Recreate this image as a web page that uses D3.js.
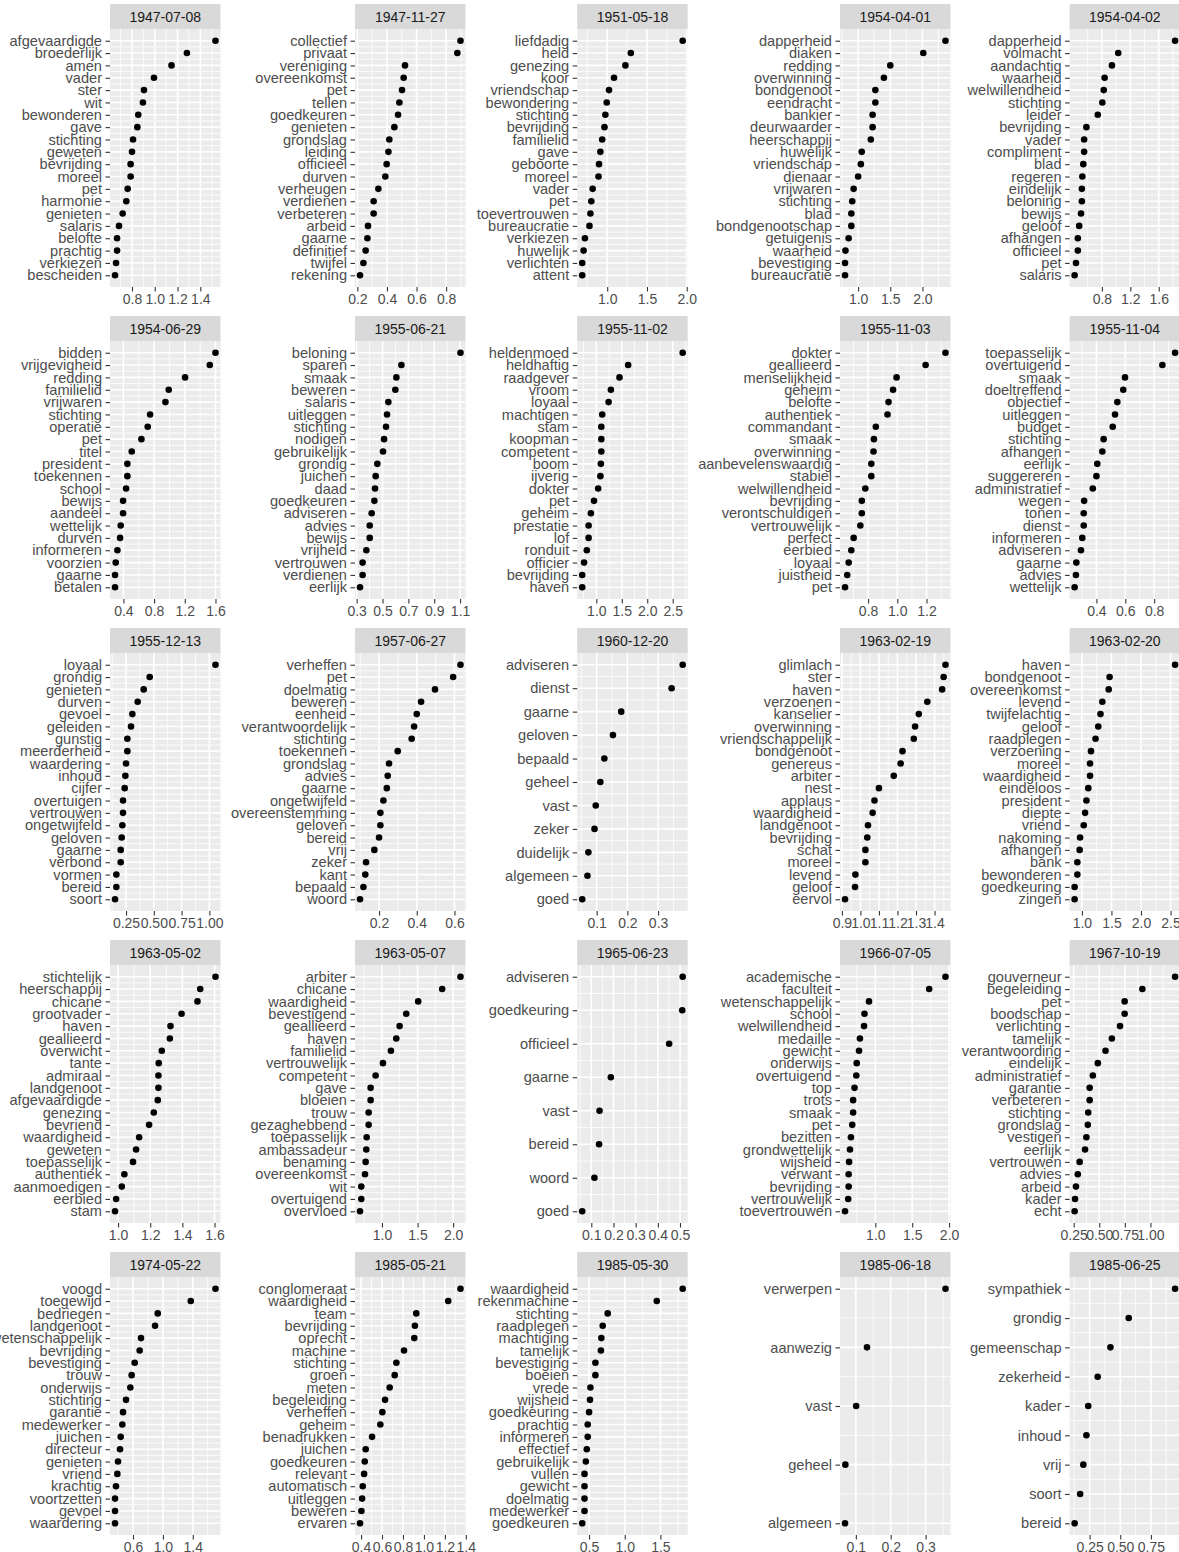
<!DOCTYPE html>
<html>
<head>
<meta charset="utf-8">
<script src="https://cdn.jsdelivr.net/npm/d3@7"></script>
<style>
  html, body { margin: 0; padding: 0; background: #ffffff; }
  svg { display: block; }
  text { font-family: "Liberation Sans", Arial, sans-serif; }
</style>
</head>
<body>
<svg id="chart" width="1179" height="1552"></svg>
<script>
// ---------------- DATA ----------------
const panelDates = [
  "1947-07-08","1947-11-27","1951-05-18","1954-04-01","1954-04-02",
  "1954-06-29","1955-06-21","1955-11-02","1955-11-03","1955-11-04",
  "1955-12-13","1957-06-27","1960-12-20","1963-02-19","1963-02-20",
  "1963-05-02","1963-05-07","1965-06-23","1966-07-05","1967-10-19",
  "1974-05-22","1985-05-21","1985-05-30","1985-06-18","1985-06-25"
];

const panelWords = [
  ["afgevaardigde","broederlijk","amen","vader","ster","wit","bewonderen","gave","stichting","geweten","bevrijding","moreel","pet","harmonie","genieten","salaris","belofte","prachtig","verkiezen","bescheiden"],
  ["collectief","privaat","vereniging","overeenkomst","pet","tellen","goedkeuren","genieten","grondslag","leiding","officieel","durven","verheugen","verdienen","verbeteren","arbeid","gaarne","definitief","twijfel","rekening"],
  ["liefdadig","held","genezing","koor","vriendschap","bewondering","stichting","bevrijding","familielid","gave","geboorte","moreel","vader","pet","toevertrouwen","bureaucratie","verkiezen","huwelijk","verlichten","attent"],
  ["dapperheid","diaken","redding","overwinning","bondgenoot","eendracht","bankier","deurwaarder","heerschappij","huwelijk","vriendschap","dienaar","vrijwaren","stichting","blad","bondgenootschap","getuigenis","waarheid","bevestiging","bureaucratie"],
  ["dapperheid","volmacht","aandachtig","waarheid","welwillendheid","stichting","leider","bevrijding","vader","compliment","blad","regeren","eindelijk","beloning","bewijs","geloof","afhangen","officieel","pet","salaris"],
  ["bidden","vrijgevigheid","redding","familielid","vrijwaren","stichting","operatie","pet","titel","president","toekennen","school","bewijs","aandeel","wettelijk","durven","informeren","voorzien","gaarne","betalen"],
  ["beloning","sparen","smaak","beweren","salaris","uitleggen","stichting","nodigen","gebruikelijk","grondig","juichen","daad","goedkeuren","adviseren","advies","bewijs","vrijheid","vertrouwen","verdienen","eerlijk"],
  ["heldenmoed","heldhaftig","raadgever","vroom","loyaal","machtigen","stam","koopman","competent","boom","ijverig","dokter","pet","geheim","prestatie","lof","ronduit","officier","bevrijding","haven"],
  ["dokter","geallieerd","menselijkheid","geheim","belofte","authentiek","commandant","smaak","overwinning","aanbevelenswaardig","stabiel","welwillendheid","bevrijding","verontschuldigen","vertrouwelijk","perfect","eerbied","loyaal","juistheid","pet"],
  ["toepasselijk","overtuigend","smaak","doeltreffend","objectief","uitleggen","budget","stichting","afhangen","eerlijk","suggereren","administratief","wegen","tonen","dienst","informeren","adviseren","gaarne","advies","wettelijk"],
  ["loyaal","grondig","genieten","durven","gevoel","geleiden","gunstig","meerderheid","waardering","inhoud","cijfer","overtuigen","vertrouwen","ongetwijfeld","geloven","gaarne","verbond","vormen","bereid","soort"],
  ["verheffen","pet","doelmatig","beweren","eenheid","verantwoordelijk","stichting","toekennen","grondslag","advies","gaarne","ongetwijfeld","overeenstemming","geloven","bereid","vrij","zeker","kant","bepaald","woord"],
  ["adviseren","dienst","gaarne","geloven","bepaald","geheel","vast","zeker","duidelijk","algemeen","goed"],
  ["glimlach","ster","haven","verzoenen","kanselier","overwinning","vriendschappelijk","bondgenoot","genereus","arbiter","nest","applaus","waardigheid","landgenoot","bevrijding","schat","moreel","levend","geloof","eervol"],
  ["haven","bondgenoot","overeenkomst","levend","twijfelachtig","geloof","raadplegen","verzoening","moreel","waardigheid","eindeloos","president","diepte","vriend","nakoming","afhangen","bank","bewonderen","goedkeuring","zingen"],
  ["stichtelijk","heerschappij","chicane","grootvader","haven","geallieerd","overwicht","tante","admiraal","landgenoot","afgevaardigde","genezing","bevriend","waardigheid","geweten","toepasselijk","authentiek","aanmoedigen","eerbied","stam"],
  ["arbiter","chicane","waardigheid","bevestigend","geallieerd","haven","familielid","vertrouwelijk","competent","gave","bloeien","trouw","gezaghebbend","toepasselijk","ambassadeur","benaming","overeenkomst","wit","overtuigend","overvloed"],
  ["adviseren","goedkeuring","officieel","gaarne","vast","bereid","woord","goed"],
  ["academische","faculteit","wetenschappelijk","school","welwillendheid","medaille","gewicht","onderwijs","overtuigend","top","trots","smaak","pet","bezitten","grondwettelijk","wijsheid","verwant","bevrijding","vertrouwelijk","toevertrouwen"],
  ["gouverneur","begeleiding","pet","boodschap","verlichting","tamelijk","verantwoording","eindelijk","administratief","garantie","verbeteren","stichting","grondslag","vestigen","eerlijk","vertrouwen","advies","arbeid","kader","echt"],
  ["voogd","toegewijd","bedriegen","landgenoot","wetenschappelijk","bevrijding","bevestiging","trouw","onderwijs","stichting","garantie","medewerker","juichen","directeur","genieten","vriend","krachtig","voortzetten","gevoel","waardering"],
  ["conglomeraat","waardigheid","team","bevrijding","oprecht","machine","stichting","groen","meten","begeleiding","verheffen","geheim","benadrukken","juichen","goedkeuren","relevant","automatisch","uitleggen","beweren","ervaren"],
  ["waardigheid","rekenmachine","stichting","raadplegen","machtiging","tamelijk","bevestiging","boeien","vrede","wijsheid","goedkeuring","prachtig","informeren","effectief","gebruikelijk","vullen","gewicht","doelmatig","medewerker","goedkeuren"],
  ["verwerpen","aanwezig","vast","geheel","algemeen"],
  ["sympathiek","grondig","gemeenschap","zekerheid","kader","inhoud","vrij","soort","bereid"]
];

const panelValues = [
  [1.533,1.282,1.147,0.993,0.905,0.896,0.855,0.847,0.809,0.800,0.788,0.788,0.762,0.750,0.718,0.686,0.669,0.669,0.660,0.651],
  [0.897,0.876,0.522,0.513,0.502,0.484,0.475,0.450,0.416,0.410,0.398,0.389,0.342,0.310,0.310,0.272,0.268,0.256,0.241,0.218],
  [1.949,1.297,1.229,1.086,1.023,0.994,0.977,0.966,0.937,0.914,0.897,0.891,0.817,0.800,0.789,0.777,0.720,0.703,0.686,0.686],
  [2.359,2.014,1.500,1.401,1.268,1.268,1.225,1.225,1.197,1.056,1.042,1.000,0.930,0.908,0.894,0.894,0.852,0.803,0.796,0.796],
  [1.830,1.030,0.941,0.838,0.826,0.806,0.742,0.582,0.550,0.550,0.538,0.525,0.518,0.518,0.506,0.480,0.461,0.461,0.435,0.416],
  [1.600,1.526,1.204,0.991,0.948,0.748,0.717,0.635,0.509,0.452,0.452,0.435,0.396,0.396,0.365,0.357,0.322,0.300,0.291,0.291],
  [1.103,0.646,0.607,0.599,0.545,0.535,0.527,0.512,0.504,0.460,0.447,0.442,0.437,0.416,0.401,0.401,0.375,0.346,0.346,0.326],
  [2.696,1.625,1.455,1.286,1.241,1.116,1.098,1.098,1.098,1.089,1.080,1.036,0.955,0.893,0.848,0.848,0.813,0.759,0.723,0.723],
  [1.330,1.194,0.995,0.971,0.940,0.933,0.853,0.840,0.837,0.822,0.822,0.781,0.757,0.757,0.747,0.701,0.685,0.667,0.657,0.642],
  [0.945,0.857,0.598,0.586,0.545,0.529,0.513,0.450,0.441,0.406,0.400,0.375,0.315,0.312,0.312,0.302,0.293,0.261,0.258,0.249],
  [1.055,0.463,0.409,0.355,0.307,0.295,0.262,0.262,0.250,0.244,0.238,0.223,0.223,0.217,0.211,0.202,0.202,0.163,0.163,0.151],
  [0.632,0.593,0.497,0.423,0.400,0.386,0.373,0.299,0.253,0.246,0.241,0.223,0.207,0.207,0.200,0.175,0.131,0.127,0.117,0.099],
  [0.380,0.344,0.180,0.153,0.125,0.112,0.097,0.093,0.073,0.070,0.053],
  [1.459,1.449,1.441,1.361,1.315,1.295,1.288,1.227,1.217,1.180,1.100,1.076,1.066,1.041,1.037,1.027,1.027,0.973,0.971,0.917],
  [2.577,1.469,1.454,1.346,1.315,1.277,1.231,1.154,1.138,1.138,1.108,1.077,1.054,1.031,0.969,0.962,0.923,0.923,0.877,0.877],
  [1.606,1.511,1.494,1.395,1.326,1.322,1.272,1.253,1.251,1.251,1.247,1.222,1.193,1.131,1.112,1.093,1.039,1.023,0.988,0.981],
  [2.103,1.846,1.509,1.341,1.248,1.201,1.126,1.014,0.911,0.841,0.841,0.813,0.813,0.785,0.780,0.771,0.762,0.710,0.710,0.692],
  [0.512,0.510,0.451,0.188,0.137,0.135,0.114,0.059],
  [1.951,1.730,0.914,0.853,0.847,0.791,0.779,0.748,0.742,0.718,0.699,0.699,0.687,0.669,0.656,0.644,0.638,0.638,0.632,0.589],
  [1.241,0.921,0.748,0.748,0.703,0.623,0.561,0.486,0.437,0.406,0.406,0.392,0.388,0.374,0.361,0.308,0.290,0.272,0.263,0.259],
  [1.704,1.373,0.931,0.895,0.707,0.689,0.622,0.582,0.564,0.506,0.466,0.457,0.435,0.426,0.399,0.390,0.372,0.359,0.359,0.359],
  [1.349,1.232,0.927,0.914,0.908,0.810,0.737,0.721,0.673,0.629,0.603,0.584,0.505,0.444,0.435,0.429,0.416,0.410,0.403,0.390],
  [1.812,1.449,0.761,0.691,0.672,0.666,0.589,0.589,0.519,0.513,0.500,0.481,0.481,0.468,0.455,0.436,0.436,0.436,0.436,0.404],
  [0.357,0.132,0.101,0.070,0.069],
  [0.947,0.569,0.420,0.316,0.239,0.224,0.199,0.173,0.128]
];

const panelTickLabels = [
  ["0.8","1.0","1.2","1.4"],
  ["0.2","0.4","0.6","0.8"],
  ["1.0","1.5","2.0"],
  ["1.0","1.5","2.0"],
  ["0.8","1.2","1.6"],
  ["0.4","0.8","1.2","1.6"],
  ["0.3","0.5","0.7","0.9","1.1"],
  ["1.0","1.5","2.0","2.5"],
  ["0.8","1.0","1.2"],
  ["0.4","0.6","0.8"],
  ["0.25","0.50","0.75","1.00"],
  ["0.2","0.4","0.6"],
  ["0.1","0.2","0.3"],
  ["0.9","1.0","1.1","1.2","1.3","1.4"],
  ["1.0","1.5","2.0","2.5"],
  ["1.0","1.2","1.4","1.6"],
  ["1.0","1.5","2.0"],
  ["0.1","0.2","0.3","0.4","0.5"],
  ["1.0","1.5","2.0"],
  ["0.25","0.50","0.75","1.00"],
  ["0.6","1.0","1.4"],
  ["0.4","0.6","0.8","1.0","1.2","1.4"],
  ["0.5","1.0","1.5"],
  ["0.1","0.2","0.3"],
  ["0.25","0.50","0.75"]
];

// ---------------- LAYOUT ----------------
const colX = [110, 355, 577.2, 840, 1069.6];
const panelW = 110.5;
const rowY0 = 4, rowStep = 312, stripH = 25, panelH = 258;
const FONT = 14;
const YFONT = 14.6;

const svg = d3.select("#chart");

panelDates.forEach((date, i) => {
  const col = i % 5, row = Math.floor(i / 5);
  const px = colX[col];
  const py = rowY0 + row * rowStep + stripH;
  const words = panelWords[i];
  const vals = panelValues[i];
  const n = words.length;
  const tickVals = panelTickLabels[i].map(Number);

  const vmin = d3.min(vals), vmax = d3.max(vals), r = vmax - vmin;
  const x = d3.scaleLinear().domain([vmin - 0.05 * r, vmax + 0.05 * r]).range([0, panelW]);
  const y = d3.scalePoint().domain(words).range([0, panelH]).padding(0.05 * (n - 1));

  const g = svg.append("g").attr("transform", `translate(${px},${py})`);

  // panel background
  g.append("rect").attr("width", panelW).attr("height", panelH).attr("fill", "#EBEBEB");

  // minor x grid
  const step = tickVals.length > 1 ? tickVals[1] - tickVals[0] : 0;
  const [d0, d1] = x.domain();
  const minors = [];
  if (step > 0) {
    for (let k = -1; k < tickVals.length; k++) {
      const m = tickVals[0] + (k + 0.5) * step;
      if (m >= d0 && m <= d1) minors.push(m);
    }
  }
  g.selectAll(".minx").data(minors).enter().append("line")
    .attr("x1", d => x(d)).attr("x2", d => x(d))
    .attr("y1", 0).attr("y2", panelH)
    .attr("stroke", "#ffffff").attr("stroke-width", 0.8);

  // minor y grid (between categories)
  const ystep = y.step();
  const yMinors = words.slice(0, -1).map(w => y(w) + ystep / 2);
  g.selectAll(".miny").data(yMinors).enter().append("line")
    .attr("x1", 0).attr("x2", panelW)
    .attr("y1", d => d).attr("y2", d => d)
    .attr("stroke", "#ffffff").attr("stroke-width", 0.8);

  // major grids
  g.selectAll(".majx").data(tickVals.filter(t => t >= d0 && t <= d1)).enter().append("line")
    .attr("x1", d => x(d)).attr("x2", d => x(d))
    .attr("y1", 0).attr("y2", panelH)
    .attr("stroke", "#ffffff").attr("stroke-width", 1.6);
  g.selectAll(".majy").data(words).enter().append("line")
    .attr("x1", 0).attr("x2", panelW)
    .attr("y1", d => y(d)).attr("y2", d => y(d))
    .attr("stroke", "#ffffff").attr("stroke-width", 1.6);

  // points
  g.selectAll(".pt").data(words.map((w, k) => ({ w, v: vals[k] }))).enter().append("circle")
    .attr("cx", d => x(d.v)).attr("cy", d => y(d.w))
    .attr("r", 3.3).attr("fill", "#000000");

  // strip
  const sg = svg.append("g").attr("transform", `translate(${px},${py - stripH})`);
  sg.append("rect").attr("width", panelW).attr("height", stripH).attr("fill", "#D9D9D9");
  sg.append("text").attr("x", panelW / 2).attr("y", stripH / 2)
    .attr("dy", "0.36em").attr("text-anchor", "middle")
    .attr("font-size", FONT).attr("fill", "#1a1a1a").text(date);

  // x axis
  const xa = g.append("g").attr("transform", `translate(0,${panelH})`)
    .call(d3.axisBottom(x).tickValues(tickVals)
      .tickFormat((d, k) => panelTickLabels[i][k]).tickSize(4.5).tickPadding(3));
  xa.select(".domain").remove();
  xa.selectAll(".tick line").attr("stroke", "#333333").attr("stroke-width", 1.1);
  xa.selectAll(".tick text").attr("fill", "#4d4d4d").attr("font-size", FONT)
    .attr("font-family", '"Liberation Sans", Arial, sans-serif');

  // y axis
  const ya = g.append("g")
    .call(d3.axisLeft(y).tickSize(4.5).tickPadding(3.5));
  ya.select(".domain").remove();
  ya.selectAll(".tick line").attr("stroke", "#333333").attr("stroke-width", 1.1);
  ya.selectAll(".tick text").attr("fill", "#4d4d4d").attr("font-size", YFONT)
    .attr("font-family", '"Liberation Sans", Arial, sans-serif');
});
</script>
</body>
</html>
